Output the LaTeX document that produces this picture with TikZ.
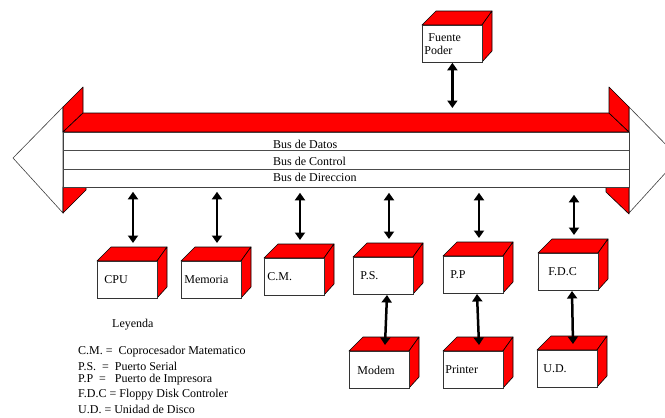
\documentclass[tikz,border=0pt]{standalone}
\usepackage{fontspec}
\setmainfont{Liberation Serif}
\usetikzlibrary{arrows.meta}
\newcommand\fs{\fontsize{12}{14}\selectfont}
\newcommand\cubeb[5]{%
  \filldraw[redface] (#2,#3) -- (#2+14,#3-14) -- (#2+70,#3-14) -- (#2+60,#3) -- cycle;
  \filldraw[redface] (#2+60,#3) -- (#2+70,#3-14) -- (#2+70,#3+26) -- (#2+60,#3+37) -- cycle;
  \node[face] (#1) at (#2,#3) {\hspace*{#4pt}#5};
  \coordinate (#1T) at (#2+36,#3-18);
  \coordinate (#1U) at (#2+36,#3-6);
  \coordinate (#1B) at (#2+34,#3+38);
}
\begin{document}
\begin{tikzpicture}[x=1pt,y=-1pt,
  redface/.style={fill=red,draw=black,line width=0.6pt,line join=round},
  face/.style={draw=black!80,line width=0.8pt,fill=white,anchor=north west,
    minimum width=60pt,minimum height=37pt,inner xsep=2pt,inner ysep=0pt,
    text width=56pt,align=left,font=\fs},
  dbl/.style={line width=2.5pt,{Triangle[width=10pt,length=7.5pt]}-{Triangle[width=10pt,length=7.5pt]}},
  bustext/.style={anchor=west,inner sep=0pt,font=\fs},
  legend/.style={anchor=west,inner sep=0pt,font=\fs}]
\useasboundingbox (0,0) rectangle (665,418);
% arrowheads of bus
\filldraw[fill=white,draw=black!75,line width=0.6pt] (63,107) -- (13,158) -- (63,213) -- cycle;
\filldraw[fill=white,draw=black!75,line width=0.6pt] (629,107) -- (679,158) -- (629,213) -- cycle;
% red 3D parts
\filldraw[redface] (63,132) -- (63,107) -- (83,87) -- (83,113) -- cycle;
\filldraw[redface] (63,132) -- (83,113) -- (609,113) -- (629,132) -- cycle;
\filldraw[redface] (609,113) -- (609,87) -- (629,107) -- (629,132) -- cycle;
\filldraw[redface] (63,187) -- (86,187) -- (86,190) -- (63,213) -- cycle;
\filldraw[redface] (606,187) -- (629,187) -- (629,214) -- (606,192) -- cycle;
% bus front face
\node[draw=black!75,line width=0.8pt,fill=white,anchor=north west,inner sep=0pt,
  minimum width=566pt,minimum height=55pt] (bus) at (63,132) {};
\draw[black!70,line width=0.8pt] (63,150) -- (629,150);
\draw[black!70,line width=0.8pt] (63,169) -- (629,169);
\node[bustext] (bd) at (273,144) {Bus de Datos};
\node[bustext] (bc) at (273,161) {Bus de Control};
\node[bustext] (bdir) at (273,177) {Bus de Direccion};
% boxes
\cubeb{fp}{422}{25}{4}{Fuente\\[-1pt]Poder}
\cubeb{cpu}{97}{261}{5}{CPU}
\cubeb{mem}{181}{261}{1}{Memoria}
\cubeb{cm}{264}{258}{1}{C.M.}
\cubeb{ps}{353}{257}{5}{P.S.}
\cubeb{pp}{443}{256}{5}{P.P}
\cubeb{fdc}{538}{253}{8}{F.D.C}
\cubeb{modem}{349}{351}{6}{Modem}
\cubeb{printer}{443}{351}{0}{Printer}
\cubeb{ud}{537}{350}{4}{U.D.}
% arrows
\draw[dbl] (fp.south) -- ([yshift=24pt]bus.north -| fp.south);
\draw[dbl] ([yshift=-4pt]bus.south -| cpuT) -- (cpuT);
\draw[dbl] ([yshift=-4pt]bus.south -| memT) -- (memT);
\draw[dbl] ([yshift=-5pt]bus.south -| cmT) -- (cmT);
\draw[dbl] ([yshift=-5pt]bus.south -| psT) -- (psT);
\draw[dbl] ([yshift=-5pt]bus.south -| ppT) -- (ppT);
\draw[dbl] ([yshift=-7pt]bus.south -| fdcT) -- (fdcT);
\draw[dbl] (psB) -- (modemU);
\draw[dbl] (ppB) -- (printerU);
\draw[dbl] (fdcB) -- (udU);
% legend
\node[legend] (ley) at (112,325) {Leyenda};
\node[legend] (l1) at (78,352) {C.M. =\ \ Coprocesador Matematico};
\node[legend] (l2) at (78,366) {P.S.\ \ =\ \ Puerto Serial};
\node[legend] (l3) at (78,380) {P.P\ \ =\ \ \ Puerto de Impresora};
\node[legend] (l4) at (78,395) {F.D.C = Floppy Disk Controler};
\node[legend] (l5) at (78,409) {U.D. = Unidad de Disco};
\end{tikzpicture}
\end{document}
